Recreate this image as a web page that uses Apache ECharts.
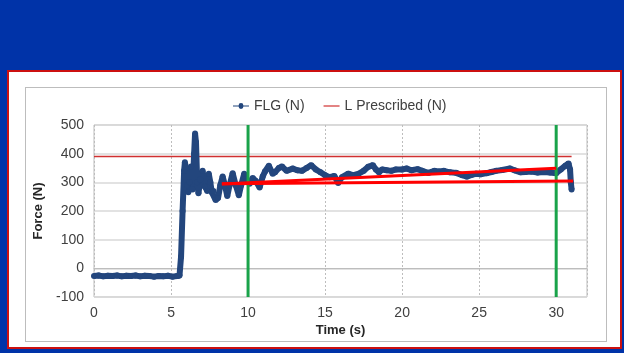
<!DOCTYPE html>
<html><head><meta charset="utf-8">
<script src="https://cdn.jsdelivr.net/npm/echarts@6/dist/echarts.min.js"></script>
<style>
html,body{margin:0;padding:0;background:#0033a8;}
#panel{position:absolute;left:7px;top:70px;width:611px;height:275px;background:#fff;border:2px solid #cc1010;}
#box{position:absolute;left:25px;top:87px;width:580px;height:253px;border:1px solid #bdbdbd;background:#fff;}
#c{position:absolute;left:0;top:0;width:624px;height:353px;}
</style></head>
<body>
<div id="panel"></div><div id="box"></div>
<div id="c"></div>
<script>
const legendNames = ['FLG (N)', 'L Prescribed (N)'];
const xTicks = [0, 5, 10, 15, 20, 25, 30];
const flgTime = [0,0.3,0.6,0.9,1.2,1.5,1.8,2.1,2.4,2.7,3.0,3.3,3.6,3.9,4.2,4.5,4.8,5.1,5.4,5.55,5.65,5.75,5.85,5.9,5.95,6.05,6.12,6.2,6.3,6.4,6.5,6.56,6.62,6.7,6.78,6.9,7.05,7.2,7.35,7.45,7.55,7.65,7.75,7.9,8.05,8.2,8.35,8.5,8.65,8.8,9.0,9.2,9.4,9.55,9.75,9.9,10.1,10.3,10.5,10.75,10.95,11.1,11.35,11.6,11.75,12.0,12.2,12.5,12.9,13.2,13.5,13.8,14.1,14.4,14.7,15.0,15.3,15.6,15.85,16.1,16.5,16.8,17.1,17.5,17.8,18.1,18.3,18.5,18.7,19.0,19.3,19.6,20.0,20.3,20.6,21.0,21.3,21.7,22.1,22.4,22.7,23.1,23.5,23.9,24.2,24.5,24.8,25.1,25.5,25.8,26.1,26.5,27.0,27.3,27.7,28.0,28.4,28.8,29.2,29.6,30.0,30.3,30.6,30.8,30.9,30.95,31.0];
const flgForce = [-27,-25,-28,-26,-27,-25,-28,-26,-27,-25,-28,-26,-27,-29,-27,-28,-26,-29,-27,-25,40,200,340,370,355,290,265,300,355,275,400,470,440,300,262,310,340,285,270,330,300,265,270,238,245,290,320,290,252,290,332,290,255,290,330,305,295,315,305,282,320,338,358,330,335,350,355,340,348,342,340,350,360,345,335,325,318,322,298,318,330,325,328,340,354,360,345,335,345,342,340,345,345,348,342,346,340,333,340,338,340,335,333,325,320,326,330,328,332,336,340,343,348,342,335,336,338,334,336,334,332,345,358,366,345,300,275];
const prescribedTime = [0, 31];
const prescribedForce = [390, 390];
const trendUpperTime = [8.3, 30];
const trendUpperForce = [294, 349];
const trendLowerTime = [8.3, 31.1];
const trendLowerForce = [295, 305];
const markerTimes = [10, 30];
const markerRange = [-100, 500];

const zip = (a, b) => a.map((v, i) => [v, b[i]]);
const chart = echarts.init(document.getElementById('c'), null, {renderer: 'canvas'});
const font = 'Liberation Sans, Arial, sans-serif';
const series = [
  {name: legendNames[0], type: 'line', data: zip(flgTime, flgForce), symbol: 'circle', symbolSize: 6,
   itemStyle: {color: '#23467d'}, lineStyle: {color: '#23467d', width: 6}, z: 3, animation: false},
  {name: legendNames[1], type: 'line', data: zip(prescribedTime, prescribedForce), symbol: 'none',
   lineStyle: {color: '#d03030', width: 1.5}, itemStyle: {color: '#d03030'}, z: 2, animation: false},
  {type: 'line', data: zip(trendUpperTime, trendUpperForce), symbol: 'none', lineStyle: {color: '#ff0000', width: 3}, z: 5, animation: false},
  {type: 'line', data: zip(trendLowerTime, trendLowerForce), symbol: 'none', lineStyle: {color: '#ff0000', width: 3}, z: 5, animation: false}
];
markerTimes.forEach(t => series.push({type: 'line', data: markerRange.map(v => [t, v]), symbol: 'none',
  lineStyle: {color: '#1aa34a', width: 3}, z: 4, animation: false}));

chart.setOption({
  animation: false,
  textStyle: {fontFamily: font},
  legend: {data: [
      {name: legendNames[0], icon: 'path://M0,4.4H5.6A2.4,2.4,0,0,1,10.4,4.4H16V5.6H10.4A2.4,2.4,0,0,1,5.6,5.6H0Z'},
      {name: legendNames[1], icon: 'path://M0,4.4H16V5.6H0Z'}],
    top: 94, left: 228, itemWidth: 16, itemHeight: 10, itemGap: 19,
    textStyle: {fontSize: 14, color: '#404040', fontFamily: font}},
  grid: {left: 94, right: 37, top: 125, bottom: 56, show: true, borderColor: '#bdbdbd', borderWidth: 1},
  xAxis: {type: 'value', min: 0, max: 32, interval: 5, name: 'Time (s)', nameLocation: 'middle', nameGap: 27,
    nameTextStyle: {fontWeight: 'bold', fontSize: 13, color: '#262626', fontFamily: font},
    axisLine: {show: true, lineStyle: {color: '#bdbdbd'}}, axisTick: {show: false},
    axisLabel: {fontSize: 14, color: '#404040', margin: 9, showMaxLabel: false, formatter: v => xTicks.includes(v) ? String(v) : ''},
    splitLine: {show: true, lineStyle: {color: '#bdbdbd', type: [2, 2], width: 1}}},
  yAxis: {type: 'value', min: -100, max: 500, interval: 100, name: 'Force (N)', nameLocation: 'middle', nameGap: 42,
    nameTextStyle: {fontWeight: 'bold', fontSize: 13, color: '#262626', fontFamily: font},
    axisLine: {show: false}, axisTick: {show: false},
    axisLabel: {fontSize: 14, color: '#404040', margin: 10},
    splitLine: {show: true, lineStyle: {color: '#d9d9d9', width: 1.5}}},
  series: series
});
</script>
</body></html>
